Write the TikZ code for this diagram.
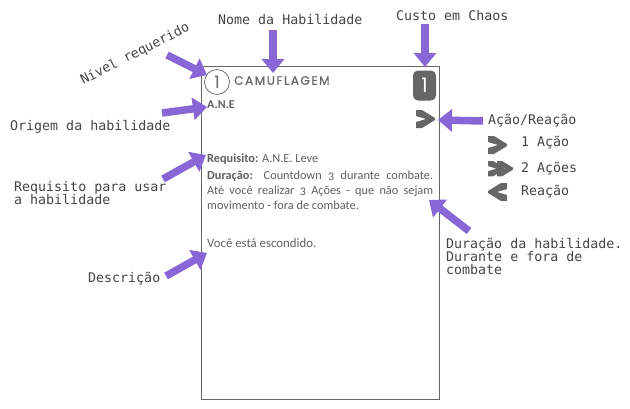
\documentclass[tikz,border=0pt]{standalone}
\usepackage{fontspec}
\setmainfont{Carlito}[Numbers=OldStyle]
\newfontfamily\labelfont{DejaVu Sans Mono}
\newfontfamily\titlefont{Poppins}[LetterSpace=12,FakeBold=0.5]
\newfontfamily\digitfont{Poppins}
\usetikzlibrary{arrows.meta}
\definecolor{arrowpurple}{HTML}{8866D6}
\definecolor{cardgray}{HTML}{666666}
\definecolor{bodygray}{HTML}{5F5F5F}
\definecolor{labelgray}{HTML}{444444}
\tikzset{
  x=1pt,y=-1pt,
  callout/.style={draw=arrowpurple,line width=7.5pt,-{Triangle[length=14pt,width=22pt]}},
  lab/.style={inner sep=0pt,anchor=west,text=labelgray,font=\labelfont\fontsize{13.3}{13}\selectfont},
  body/.style={inner sep=0pt,anchor=west,text=bodygray,font=\fontsize{12.3}{15}\selectfont},
  chevpic/.pic={\fill[cardgray] (0,0) -- (6,0) -- (19,8) -- (19,10) -- (6,18) -- (0,18) -- (0,12) -- (10,9) -- (0,6) -- cycle;}
}
\begin{document}
\begin{tikzpicture}
\useasboundingbox (0,0) rectangle (630,408);
\node[draw=cardgray,line width=0.9pt,minimum width=238pt,minimum height=333pt,inner sep=0pt,anchor=north west] (card) at (201,66) {};
% card header
\node[draw=cardgray,circle,line width=0.7pt,minimum size=25pt,inner sep=0pt,text=cardgray,font=\digitfont\fontsize{17}{17}\selectfont] (level) at (217,82) {1};
\node[inner sep=0pt,anchor=west,text=cardgray,font=\titlefont\fontsize{12.2}{13}\selectfont] (title) at (234,80.5) {CAMUFLAGEM};
\node[fill=cardgray,rounded corners=5pt,minimum width=23pt,minimum height=30pt,inner sep=0pt,text=white,font=\digitfont\fontsize{20}{20}\selectfont] (cost) at (424.5,85.5) {1};
\node[body,font=\bfseries\fontsize{12}{12}\selectfont] (origin) at (207,105) {A.N.E};
\pic at (416,110) {chevpic};
\coordinate (actiontip) at (438,120);
% card body
\node[body] (req) at (207,159) {\textbf{Requisito:} A.N.E. Leve};
\node[body,text width=226pt,align=justify,anchor=north west] (dur) at (207,170.5) {\textbf{Duração:} Countdown 3 durante combate.\linebreak Até você realizar 3 Ações - que não sejam\linebreak movimento - fora de combate.};
\node[body,font=\fontsize{12.8}{15}\selectfont] (desc) at (207,243) {Você está escondido.};
% labels
\node[lab] (lnome) at (218,19.5) {Nome da Habilidade};
\node[lab] (lcusto) at (396,15.5) {Custo em Chaos};
\node[lab,anchor=center,rotate=27] (lnivel) at (135,54) {Nível requerido};
\node[lab] (lorigem) at (10,127) {Origem da habilidade};
\node[lab,align=left] (lreq) at (14,193.5) {Requisito para usar\\a habilidade};
\node[lab] (ldesc) at (88,278.5) {Descrição};
\node[lab] (lacao) at (488,121) {Ação/Reação};
\node[lab] (l1) at (521,143) {1 Ação};
\node[lab] (l2) at (521,169) {2 Ações};
\node[lab] (l3) at (521,192) {Reação};
\node[lab,align=left] (ldur) at (446,256) {Duração da habilidade.\\Durante e fora de\\combate};
% legend icons
\pic at (488,136) {chevpic};
\pic[scale=0.85] at (488,161) {chevpic};
\pic[scale=0.85] at (497,161) {chevpic};
\pic[xscale=-1] at (507,183) {chevpic};
% callouts
\coordinate (s1) at (273,30);  \coordinate (t1) at (273,73);
\coordinate (s2) at (425,24);  \coordinate (t2) at (425,67);
\coordinate (s3) at (167,55);  \coordinate (t3) at (207,75);
\coordinate (s4) at (162,113); \coordinate (t4) at (207,107);
\coordinate (s5) at (483,121);
\coordinate (s6) at (163,179); \coordinate (t6) at (206,155);
\coordinate (s7) at (469,231); \coordinate (t7) at (429,200);
\coordinate (s8) at (166,276); \coordinate (t8) at (207,253);
\draw[callout] (s1) -- (t1);
\draw[callout] (s2) -- (t2);
\draw[callout] (s3) -- (t3);
\draw[callout] (s4) -- (t4);
\draw[callout] (s5) -- (actiontip);
\draw[callout] (s6) -- (t6);
\draw[callout] (s7) -- (t7);
\draw[callout] (s8) -- (t8);
\end{tikzpicture}
\end{document}
